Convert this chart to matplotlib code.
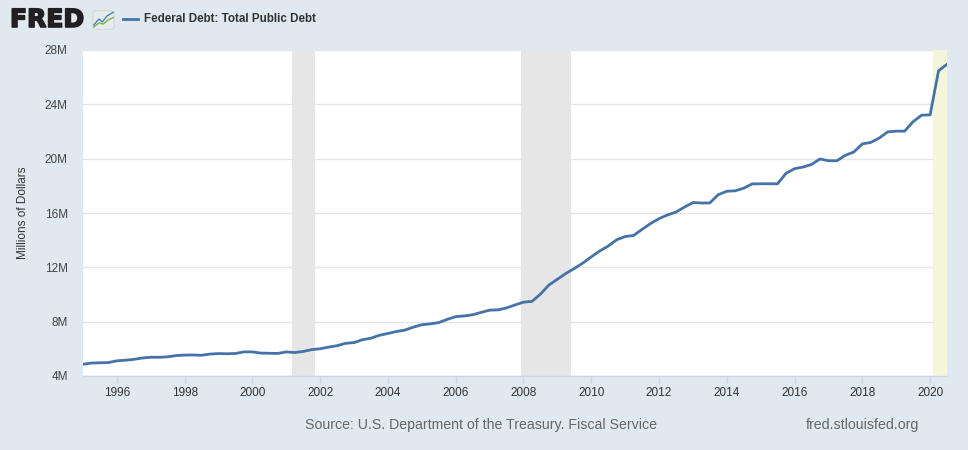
import numpy as np
import matplotlib
matplotlib.use("Agg")
import matplotlib.pyplot as plt
import matplotlib.patheffects as pe
from matplotlib.patches import FancyBboxPatch
from datetime import date

# GFDEBTN, quarterly, millions of dollars
start_year = 1995
debt = [
    4864000, 4951000, 4974000, 4989000,
    5118000, 5161000, 5225000, 5323000,
    5381000, 5376000, 5413000, 5502000,
    5542000, 5548000, 5526000, 5614000,
    5651000, 5638000, 5656000, 5776000,
    5773000, 5686000, 5674000, 5662000,
    5773000, 5727000, 5807000, 5943000,
    6006000, 6126000, 6228000, 6405000,
    6460000, 6670000, 6783000, 6998000,
    7131000, 7274000, 7379000, 7596000,
    7776000, 7836000, 7932000, 8170000,
    8371000, 8420000, 8507000, 8680000,
    8849000, 8867000, 9008000, 9229000,
    9437000, 9492000, 10024000, 10700000,
    11127000, 11545000, 11909000, 12311000,
    12773000, 13201000, 13562000, 14025000,
    14270000, 14343000, 14790000, 15223000,
    15582000, 15856000, 16066000, 16433000,
    16771000, 16738000, 16738000, 17352000,
    17602000, 17633000, 17824000, 18141000,
    18152000, 18152000, 18151000, 18922000,
    19264000, 19381000, 19573000, 19977000,
    19846000, 19845000, 20245000, 20493000,
    21090000, 21195000, 21516000, 21974000,
    22028000, 22023000, 22719000, 23201000,
    23224000, 26477000, 26945000,
]
dates = [date(start_year + i // 4, 1 + 3 * (i % 4), 1) for i in range(len(debt))]

recessions = [(date(2001, 3, 1), date(2001, 11, 1)),
              (date(2007, 12, 1), date(2009, 6, 1))]
recession_2020 = (date(2020, 2, 1), date(2020, 7, 1))

yticks = [4e6, 8e6, 12e6, 16e6, 20e6, 24e6, 28e6]
xtick_years = list(range(1996, 2021, 2))

W, H = 968, 450
bg = "#e1e9f0"
fig = plt.figure(figsize=(W / 100, H / 100), dpi=100, facecolor=bg)
plt.rcParams['font.family'] = ['Liberation Sans', 'DejaVu Sans']

def px(x, y):
    return x / W, 1 - y / H

ax = fig.add_axes([83 / W, 1 - 376 / H, 864 / W, 326 / H])
ax.set_facecolor("white")

for a, b in recessions:
    ax.axvspan(a, b, color="#e6e6e6", lw=0, zorder=1)
ax.axvspan(recession_2020[0], recession_2020[1], color="#f5f5dc", lw=0, zorder=1)

ax.plot(dates, debt, color="#4572a7", lw=2, zorder=3, solid_joinstyle="round")

ax.set_xlim(date(1995, 1, 1), date(2020, 7, 1))
ax.set_ylim(4e6, 28e6)
ax.set_yticks(yticks)
ax.set_yticklabels([f"{int(v / 1e6)}M" for v in yticks])
ax.set_xticks([date(y, 1, 1) for y in xtick_years])
ax.set_xticklabels([str(y) for y in xtick_years])
ax.grid(axis="y", color="#e6e6e6", lw=1, zorder=0)
ax.set_axisbelow(True)

for s in ["top", "right", "left"]:
    ax.spines[s].set_visible(False)
ax.spines["bottom"].set_color("#ccd6eb")
ax.spines["bottom"].set_linewidth(1)
ax.tick_params(axis="x", colors="#ccd6eb", length=5, width=1, pad=3,
               labelcolor="#333333", labelsize=8.5)
ax.tick_params(axis="y", length=0, pad=11, labelcolor="#444444", labelsize=8.5)
ax.set_ylabel("Millions of Dollars", color="#333333", fontsize=8.5)
ax.yaxis.set_label_coords(-54 / 864, 0.5)

# header: logo and legend
fig.text(*px(10, 20), "FRED", fontsize=18, fontweight="bold", color="#231f20",
         va="center", ha="left", family="DejaVu Sans",
         path_effects=[pe.withStroke(linewidth=1.2, foreground="#231f20")])
icon = fig.add_axes([92 / W, 1 - 30 / H, 23 / W, 20 / H])
icon.set_xlim(0, 1)
icon.set_ylim(0, 1)
icon.axis("off")
icon.add_patch(FancyBboxPatch((0.04, 0.04), 0.92, 0.92,
                              boxstyle="round,pad=0,rounding_size=0.12",
                              fc="#e8ebeb", ec="#c8cccc", lw=0.5))
icon.plot([0.08, 0.3, 0.45, 0.65, 0.92], [0.25, 0.55, 0.4, 0.7, 0.88],
          color="#4c7fc0", lw=1)
icon.plot([0.08, 0.3, 0.5, 0.7, 0.92], [0.15, 0.35, 0.3, 0.5, 0.62],
          color="#7ab648", lw=1)

fig.add_artist(plt.Line2D([123 / W, 138 / W], [1 - 19 / H, 1 - 19 / H],
                          color="#4572a7", lw=2))
fig.text(*px(144, 19), "Federal Debt: Total Public Debt", fontsize=8.4,
         fontweight="bold", color="#333333", va="center", ha="left")

# footer
fig.text(*px(481, 425), "Source: U.S. Department of the Treasury. Fiscal Service",
         fontsize=10.2, color="#666666", va="center", ha="center")
fig.text(*px(862, 425), "fred.stlouisfed.org", fontsize=10.2, color="#666666",
         va="center", ha="center")

fig.savefig("out.png", dpi=100, facecolor=bg)
